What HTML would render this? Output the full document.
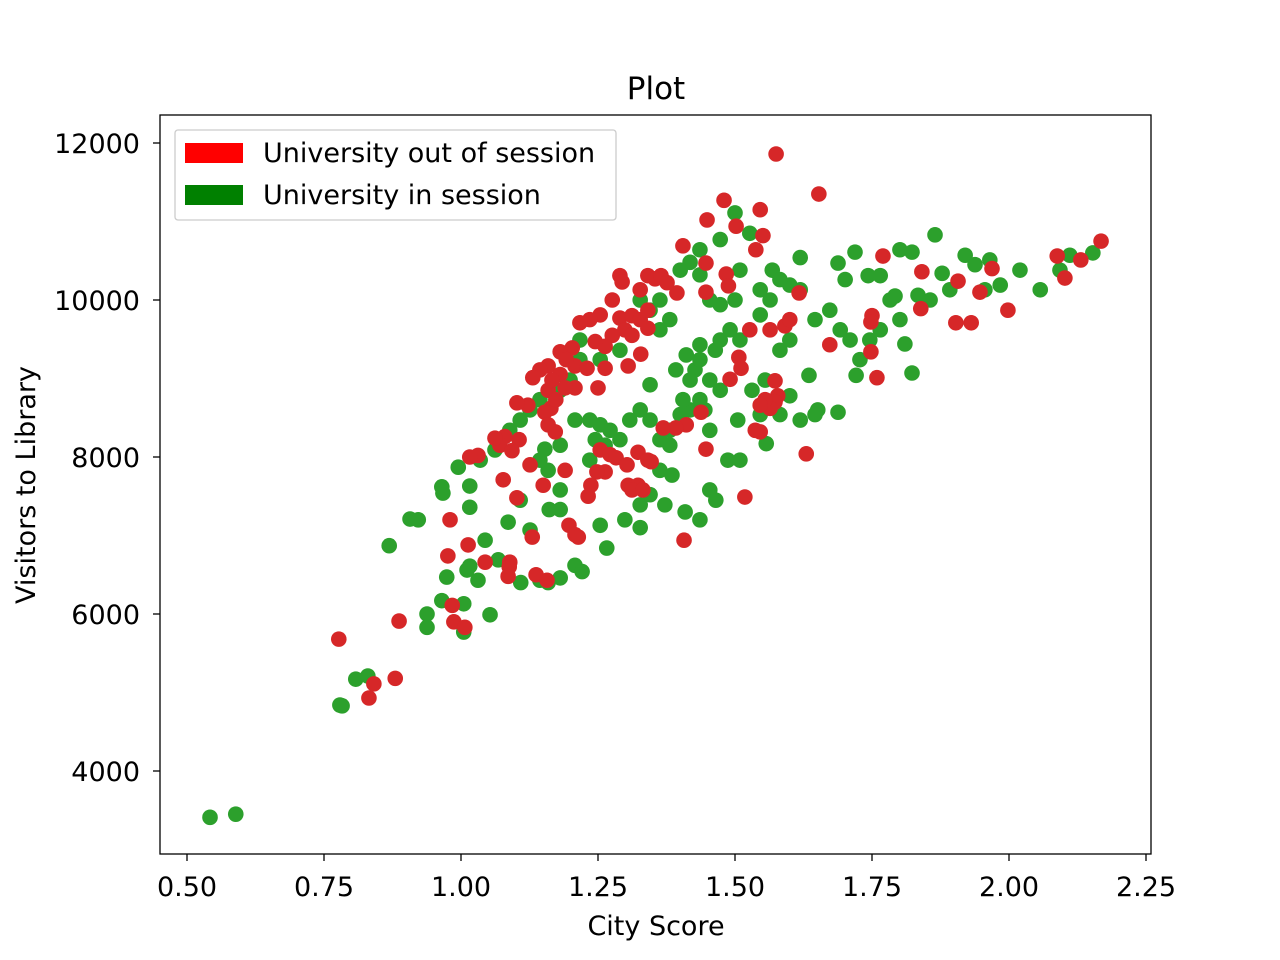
<!DOCTYPE html>
<html><head><meta charset="utf-8"><style>
body{margin:0;background:#fff;}
svg{display:block;font-family:"DejaVu Sans","Liberation Sans",sans-serif;}
</style></head><body>
<svg id="chart" width="1280" height="960">
<rect x="0" y="0" width="1280" height="960" fill="#fff"/>
<text x="656" y="99" font-size="31" text-anchor="middle">Plot</text>
<g id="marks"></g>
<rect x="160" y="115" width="991" height="739" fill="none" stroke="#000" stroke-width="1.3"/>
<g id="xticks"></g><g id="yticks"></g>
<text x="656" y="935" font-size="27" text-anchor="middle">City Score</text>
<text transform="translate(35,485) rotate(-90)" font-size="27" text-anchor="middle">Visitors to Library</text>
<g>
<rect x="175" y="130" width="441" height="90" rx="3" fill="#fff" fill-opacity="0.8" stroke="#ccc" stroke-width="1.3"/>
<g>
<rect x="185" y="143" width="58" height="20" fill="#ff0000"/>
<text x="263" y="162" font-size="27">University out of session</text></g>
<g>
<rect x="185" y="185" width="58" height="20" fill="#008000"/>
<text x="263" y="204" font-size="27">University in session</text></g>
</g>
</svg>
<script>
const xTicks=[0.5,0.75,1.0,1.25,1.5,1.75,2.0,2.25];
const xTickLabels=["0.50","0.75","1.00","1.25","1.50","1.75","2.00","2.25"];
const yTicks=[4000,6000,8000,10000,12000];
const yTickLabels=["4000","6000","8000","10000","12000"];
const greenX=[0.542,0.589,0.779,0.783,0.808,0.830,0.869,0.907,0.922,0.938,0.938,0.965,1.005,1.005,0.995,0.965,0.967,1.016,1.016,0.974,1.011,1.031,1.053,1.016,1.044,1.068,1.086,1.108,1.109,1.126,1.144,1.159,1.181,1.208,1.221,1.161,1.181,1.181,1.159,1.153,1.235,1.245,1.254,1.272,1.266,1.254,1.299,1.327,1.327,1.345,1.363,1.381,1.381,1.400,1.418,1.436,1.454,1.473,1.427,1.436,1.464,1.473,1.491,1.509,1.436,1.411,1.392,1.418,1.405,1.327,1.308,1.345,1.363,1.372,1.385,1.409,1.436,1.454,1.465,1.487,1.505,1.531,1.555,1.557,1.546,1.582,1.600,1.619,1.646,1.635,1.651,1.688,1.582,1.600,1.546,1.564,1.600,1.619,1.646,1.673,1.692,1.710,1.728,1.721,1.746,1.765,1.783,1.792,1.801,1.810,1.823,1.834,1.856,1.865,1.878,1.892,1.920,1.938,1.965,1.956,1.984,2.020,2.057,2.111,2.153,2.093,1.688,1.719,1.743,1.765,1.701,1.801,1.823,1.500,1.527,1.473,1.436,1.418,1.400,1.436,1.454,1.363,1.345,1.327,1.217,1.217,1.199,1.181,1.144,1.126,1.108,1.089,1.062,1.035,1.546,1.509,1.473,1.500,1.568,1.582,1.619,1.509,1.454,1.445,1.290,1.263,1.235,1.208,1.181,1.144,1.345,1.363,1.381,1.290,1.254];
const greenY=[3410,3450,4840,4830,5170,5210,6870,7210,7200,6000,5830,6170,6130,5770,7870,7620,7540,7630,7360,6470,6560,6430,5990,6610,6940,6690,7170,7450,6400,7070,6430,6400,6460,6620,6540,7330,7330,7580,7830,8100,7960,8220,8410,8340,6840,7130,7200,7390,7100,7520,7830,8340,8150,8540,8600,8730,8980,8850,9110,9240,9360,9490,9620,9490,9430,9300,9110,8980,8730,8600,8470,8470,8220,7390,7770,7300,7200,7580,7450,7960,8470,8850,8980,8170,8540,8540,8780,8470,8540,9040,8600,8570,9360,9490,9810,10000,10190,10540,9750,9870,9620,9490,9240,9040,9490,9620,10000,10050,9750,9440,9070,10060,10000,10830,10340,10130,10570,10450,10510,10130,10190,10380,10130,10570,10600,10380,10470,10610,10310,10310,10260,10640,10610,11110,10850,10770,10640,10480,10380,10320,10000,10000,9870,10000,9490,9240,8980,8850,8730,8600,8470,8340,8090,7960,10130,10380,9940,10000,10380,10260,10130,7960,8340,8600,8220,8150,8470,8470,8150,7960,8920,9620,9750,9360,9240];
const redX=[1.575,1.653,1.480,1.546,1.502,1.449,1.551,1.538,1.405,1.447,1.484,1.488,1.447,1.617,1.394,1.290,1.294,1.341,1.354,1.365,1.376,1.327,1.276,1.254,1.235,1.217,1.290,1.312,1.327,1.341,1.299,1.312,1.276,1.341,1.263,1.245,1.328,1.305,1.203,1.181,1.208,1.263,1.230,1.192,1.159,1.144,1.181,1.250,1.208,1.190,1.159,1.131,1.166,1.164,1.173,1.153,1.122,1.159,1.102,1.172,1.106,1.080,1.071,1.062,1.093,1.031,1.016,1.126,1.190,1.150,1.077,1.102,1.254,1.272,1.263,1.248,1.237,1.232,1.283,1.303,1.323,1.341,1.347,1.305,1.323,1.312,1.332,1.438,1.411,1.392,1.369,1.447,1.407,1.197,1.208,1.214,1.130,0.980,0.976,1.013,1.044,1.089,1.088,1.137,1.157,1.086,0.984,0.987,1.007,0.777,0.887,0.841,0.832,0.880,1.518,1.630,1.546,1.573,1.578,1.573,1.564,1.555,1.546,1.537,1.507,1.511,1.491,1.527,1.564,1.591,1.600,1.673,1.748,1.750,1.748,1.759,1.770,1.841,1.839,1.907,1.903,1.931,1.969,1.947,1.998,2.088,2.102,2.131,2.168];
const redY=[11860,11350,11270,11150,10940,11020,10820,10640,10690,10470,10330,10180,10100,10090,10090,10310,10230,10310,10270,10310,10220,10130,10000,9810,9750,9710,9770,9800,9750,9870,9620,9550,9550,9640,9410,9470,9310,9160,9390,9340,9160,9130,9130,9240,9160,9110,9050,8880,8880,8880,8850,9010,8980,8620,8730,8570,8660,8410,8690,8320,8220,8260,8150,8240,8080,8020,8000,7900,7830,7640,7710,7480,8090,8030,7810,7810,7640,7500,7990,7900,8060,7960,7940,7640,7640,7580,7580,8570,8410,8370,8370,8100,6940,7130,7010,6980,6980,7200,6740,6880,6660,6660,6600,6500,6430,6480,6110,5900,5830,5680,5910,5110,4930,5180,7490,8040,8320,8970,8780,8700,8620,8730,8660,8340,9270,9130,8990,9620,9620,9670,9750,9430,9340,9800,9720,9010,10560,10360,9890,10240,9710,9710,10400,10100,9870,10560,10280,10510,10750];

const NS="http://www.w3.org/2000/svg";
function sx(v){return 187+(v-0.5)*548;}
function sy(v){return 771-(v-4000)*0.0785;}
function mk(tag,attrs,parent){const e=document.createElementNS(NS,tag);for(const k in attrs)e.setAttribute(k,attrs[k]);parent.appendChild(e);return e;}
const xt=document.getElementById('xticks'),yt=document.getElementById('yticks'),marks=document.getElementById('marks');
xTicks.forEach((v,i)=>{
  const l=mk('line',{x1:sx(v),x2:sx(v),y1:854,y2:861,stroke:'#000','stroke-width':1.3},xt);
  
  
  const t=mk('text',{x:sx(v),y:896,'font-size':27,'text-anchor':'middle'},xt);t.textContent=xTickLabels[i];
  
  
});
yTicks.forEach((v,i)=>{
  const l=mk('line',{x1:153,x2:160,y1:sy(v),y2:sy(v),stroke:'#000','stroke-width':1.3},yt);
  
  
  const t=mk('text',{x:140,y:sy(v)+10,'font-size':27,'text-anchor':'end'},yt);t.textContent=yTickLabels[i];
  
  
});
greenX.forEach((v,i)=>{
  const c=mk('circle',{cx:sx(v),cy:sy(greenY[i]),r:7.8,fill:'#2ca02c'},marks);
  
  
});
redX.forEach((v,i)=>{
  const c=mk('circle',{cx:sx(v),cy:sy(redY[i]),r:7.8,fill:'#d62728'},marks);
  
  
});
</script>
</body></html>
